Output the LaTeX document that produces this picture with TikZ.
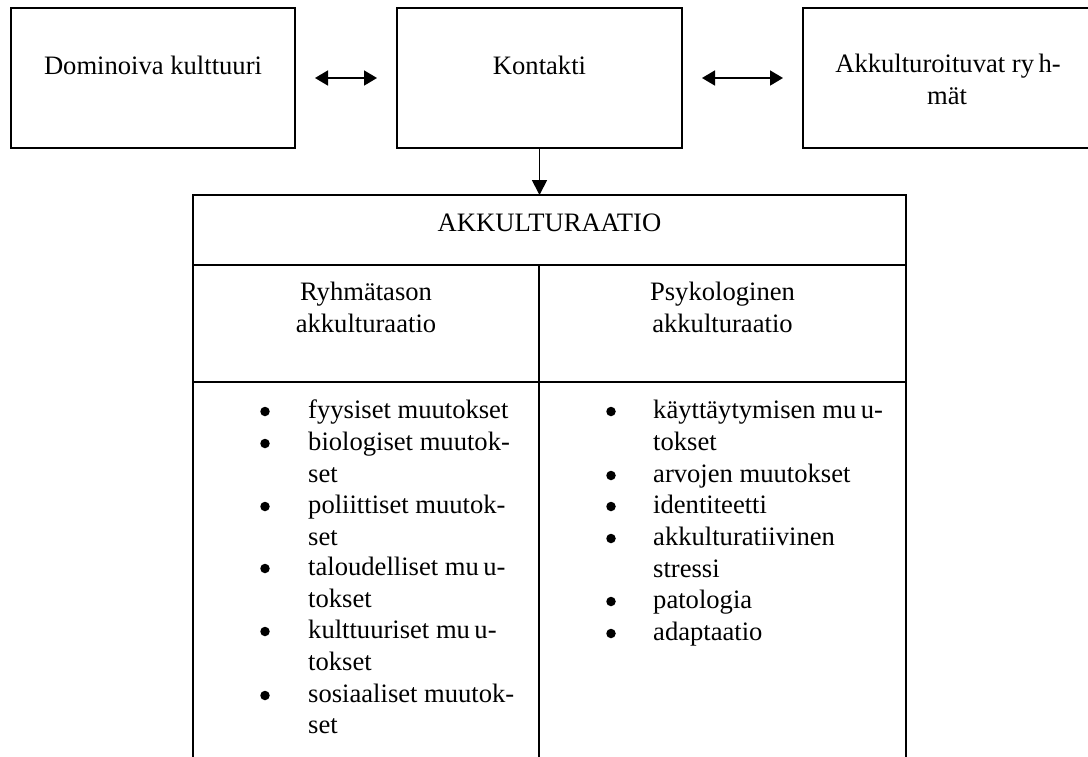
\documentclass[tikz,border=0pt]{standalone}
\usepackage{fontspec}
\setmainfont{Liberation Serif}
\usetikzlibrary{arrows.meta}
\begin{document}
\begin{tikzpicture}[x=1pt,y=-1pt,
  box/.style={draw, line width=1.8pt, inner sep=0pt, outer sep=0pt},
  txt/.style={anchor=base, inner sep=0pt, font=\fontsize{26.6}{31.5}\selectfont},
  item/.style={txt, anchor=base west},
  bul/.style={circle, fill, inner sep=0pt, minimum size=9.5pt},
  dbl/.style={{Triangle[length=13pt,width=15pt]}-{Triangle[length=13pt,width=15pt]}, line width=1.8pt},
  one/.style={-{Triangle[length=15pt,width=15pt]}, line width=1.8pt}
]
\useasboundingbox (0,0) rectangle (1088,756);
% top boxes
\node[box, minimum width=284pt, minimum height=140pt] (dom) at (153,78) {};
\node[box, minimum width=285pt, minimum height=140pt] (kon) at (539.5,78) {};
\node[box, minimum width=292pt, minimum height=140pt] (akr) at (949,78) {};
\node[txt] (domt) at (153,74) {Dominoiva kulttuuri};
\node[txt] (kont) at (539.5,74) {Kontakti};
\node[txt] (akrt1) at (948,72) {Akkulturoituvat ry\,h-};
\node[txt] (akrt2) at (947,104) {mät};
% arrows
\coordinate (l1) at (315,78); \coordinate (l2) at (377,78);
\draw[dbl] (l1) -- (l2);
\coordinate (r1) at (702,78); \coordinate (r2) at (783,78);
\draw[dbl] (r1) -- (r2);
% table
\node[box, minimum width=713pt, minimum height=70pt] (akk) at (549.5,230) {};
\node[box, minimum width=346pt, minimum height=117pt] (ryh) at (366,323.5) {};
\node[box, minimum width=367pt, minimum height=117pt] (psy) at (722.5,323.5) {};
\node[box, minimum width=346pt, minimum height=380pt] (lst1) at (366,572) {};
\node[box, minimum width=367pt, minimum height=380pt] (lst2) at (722.5,572) {};
\draw[one] (kon.south) -- (kon.south |- akk.north);
\node[txt] (akkt) at (549.5,231) {AKKULTURAATIO};
\node[txt] (ryht1) at (366,300) {Ryhmätason};
\node[txt] (ryht2) at (366,332) {akkulturaatio};
\node[txt] (psyt1) at (722.5,300) {Psykologinen};
\node[txt] (psyt2) at (722.5,332) {akkulturaatio};
% left list
\foreach \y [count=\i] in {418,450,513,575,638,702}
  \node[bul] (lb\i) at (265,\y-6.5) {};
\foreach \y/\t [count=\i] in {418/fyysiset muutokset, 450/biologiset muutok-, 482/set,
  513/poliittiset muutok-, 545/set, 575/taloudelliset mu\,u-, 607/tokset,
  638/kulttuuriset mu\,u-, 670/tokset, 702/sosiaaliset muutok-, 733/set}
  \node[item] (lt\i) at (308,\y) {\t};
% right list
\foreach \y [count=\i] in {418,482,513,545,608,640}
  \node[bul] (rb\i) at (611,\y-6.5) {};
\foreach \y/\t [count=\i] in {418/käyttäytymisen mu\,u-, 450/tokset, 482/arvojen muutokset,
  513/identiteetti, 545/akkulturatiivinen, 577/stressi, 608/patologia, 640/adaptaatio}
  \node[item] (rt\i) at (653,\y) {\t};
\end{tikzpicture}
\end{document}
